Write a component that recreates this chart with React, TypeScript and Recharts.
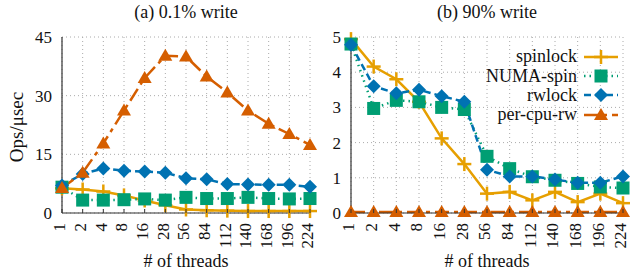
import React from 'react';
import { LineChart, Line, XAxis, YAxis, CartesianGrid, Label } from 'recharts';

const threads = ['1', '2', '4', '8', '16', '28', '56', '84', '112', '140', '168', '196', '224'];

// (a) 0.1% write
const spinA = [6.3, 6.0, 5.5, 4.5, 3.2, 2.0, 0.9, 0.7, 0.6, 0.5, 0.5, 0.5, 0.5];
const numaA = [6.6, 3.3, 3.3, 3.4, 3.6, 3.3, 4.0, 3.7, 3.7, 4.0, 3.7, 3.6, 3.7];
const rwA = [7.0, 10.0, 11.4, 10.8, 10.6, 10.3, 8.9, 8.6, 7.4, 7.3, 7.2, 7.2, 6.7];
const pcpuA = [6.4, 10.3, 17.8, 26.2, 34.5, 40.2, 40.0, 34.9, 30.8, 26.2, 22.8, 20.2, 17.4];

// (b) 90% write
const spinB = [4.94, 4.16, 3.8, 3.16, 2.12, 1.39, 0.55, 0.6, 0.36, 0.6, 0.31, 0.55, 0.28];
const numaB = [4.8, 2.97, 3.2, 3.16, 3.0, 2.94, 1.61, 1.26, 1.03, 0.93, 0.84, 0.74, 0.71];
const rwB = [4.78, 3.6, 3.4, 3.5, 3.32, 3.16, 1.23, 1.04, 1.04, 0.95, 0.86, 0.86, 1.04];
const pcpuB = [0.03, 0.03, 0.03, 0.03, 0.03, 0.03, 0.03, 0.03, 0.03, 0.03, 0.03, 0.03, 0.03];

const ticksA = [0, 15, 30, 45];
const ticksB = [0, 1, 2, 3, 4, 5];

const dataA = threads.map((t, i) => ({ t, spin: spinA[i], numa: numaA[i], rw: rwA[i], pcpu: pcpuA[i] }));
const dataB = threads.map((t, i) => ({ t, spin: spinB[i], numa: numaB[i], rw: rwB[i], pcpu: pcpuB[i] }));

const FONT = '"Liberation Serif", serif';
const C_SPIN = '#E69F00';
const C_NUMA = '#009E73';
const C_RW = '#0072B2';
const C_PCPU = '#D55E00';

const SERIES = [
  { key: 'spin', name: 'spinlock', color: C_SPIN, dash: undefined, shape: 'plus' },
  { key: 'numa', name: 'NUMA-spin', color: C_NUMA, dash: '1.5 4', shape: 'square' },
  { key: 'rw', name: 'rwlock', color: C_RW, dash: '7 4', shape: 'diamond' },
  { key: 'pcpu', name: 'per-cpu-rw', color: C_PCPU, dash: '14 5 4 5', shape: 'triangle' },
];

const Marker = ({ cx, cy, shape, color }: any) => {
  if (cx == null || cy == null) return null;
  if (shape === 'plus')
    return (
      <g stroke={color} strokeWidth={2.5}>
        <line x1={cx - 7} y1={cy} x2={cx + 7} y2={cy} />
        <line x1={cx} y1={cy - 7} x2={cx} y2={cy + 7} />
      </g>
    );
  if (shape === 'square') return <rect x={cx - 6.5} y={cy - 6.5} width={13} height={13} fill={color} />;
  if (shape === 'diamond')
    return <polygon points={`${cx},${cy - 7} ${cx + 7},${cy} ${cx},${cy + 7} ${cx - 7},${cy}`} fill={color} />;
  return <polygon points={`${cx},${cy - 7} ${cx + 7},${cy + 5} ${cx - 7},${cy + 5}`} fill={color} />;
};

const XTick = ({ x, y, payload }: any) => (
  <g>
    <line x1={x} y1={y - 8} x2={x} y2={y - 12} stroke="#333" strokeWidth={1} />
    <text x={x} y={y} transform={`rotate(-90 ${x} ${y})`} textAnchor="end" dy="0.2em" dx={-2}
      fontFamily={FONT} fontSize={17} fill="#111">
      {payload.value}
    </text>
  </g>
);

const LegendBox = () => (
  <div style={{ position: 'absolute', right: 12, top: 47, fontFamily: FONT, fontSize: 18, color: '#111' }}>
    {SERIES.map((s) => (
      <div key={s.key} style={{ display: 'flex', alignItems: 'center', justifyContent: 'flex-end', height: 19.4 }}>
        <span style={{ marginRight: 6 }}>{s.name}</span>
        <svg width={36} height={16}>
          <line x1={1} y1={8} x2={35} y2={8} stroke={s.color} strokeWidth={2.5} strokeDasharray={s.dash} />
          <Marker cx={18} cy={8} shape={s.shape} color={s.color} />
        </svg>
      </div>
    ))}
  </div>
);

const Panel = ({ data, ticks, max, yWidth, right, yLabel }: any) => (
  <LineChart width={320} height={277} data={data} margin={{ top: 37, right, bottom: 0, left: 0 }}
    style={{ overflow: 'visible' }}>
    <CartesianGrid stroke="#aaa" strokeDasharray="1 3" />
    <XAxis dataKey="t" type="category" scale="point" padding={{ left: 0, right: 0 }} interval={0}
      height={64} tickLine={false} axisLine={{ stroke: '#333', strokeWidth: 1.2 }} tick={<XTick />} />
    <YAxis type="number" domain={[0, max]} ticks={ticks} width={yWidth} interval={0}
      tickLine={false} axisLine={{ stroke: '#333', strokeWidth: 1.2 }}
      tick={{ fontFamily: FONT, fontSize: 17, fill: '#111' }} tickMargin={4}>
      {yLabel && (
        <Label
          content={({ viewBox }: any) => (
            <text x={16} y={viewBox.y + viewBox.height / 2 + 2} transform={`rotate(-90 16 ${viewBox.y + viewBox.height / 2 + 2})`}
              textAnchor="middle" dy="0.35em" fontFamily={FONT} fontSize={19} fill="#111">
              Ops/μsec
            </text>
          )}
        />
      )}
    </YAxis>
    {SERIES.map((s) => (
      <Line key={s.key} dataKey={s.key} name={s.name} stroke={s.color} strokeWidth={2.5}
        strokeDasharray={s.dash} isAnimationActive={false}
        dot={(p: any) => <Marker key={`${s.key}-${p.index}`} cx={p.cx} cy={p.cy} shape={s.shape} color={s.color} />}
        activeDot={false} />
    ))}
  </LineChart>
);

const App = () => (
  <div style={{ position: 'absolute', left: 0, top: 0, width: 631, height: 277, background: '#fff', fontFamily: FONT, color: '#111' }}>
    <div style={{ position: 'absolute', left: 62, width: 248, top: 2, textAlign: 'center', fontSize: 18 }}>(a) 0.1% write</div>
    <div style={{ position: 'absolute', left: 351, width: 272, top: 2, textAlign: 'center', fontSize: 18 }}>(b) 90% write</div>
    <div style={{ position: 'absolute', left: 0, top: 0 }}>
      <Panel data={dataA} ticks={ticksA} max={45} yWidth={62} right={10} yLabel />
    </div>
    <div style={{ position: 'absolute', left: 311, top: 0 }}>
      <Panel data={dataB} ticks={ticksB} max={5} yWidth={40} right={8} />
    </div>
    <LegendBox />
    <div style={{ position: 'absolute', left: 62, width: 248, top: 251, textAlign: 'center', fontSize: 18 }}># of threads</div>
    <div style={{ position: 'absolute', left: 351, width: 272, top: 251, textAlign: 'center', fontSize: 18 }}># of threads</div>
  </div>
);

export default App;
